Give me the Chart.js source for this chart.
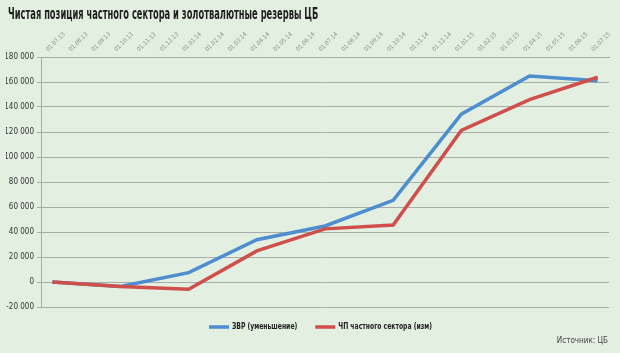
<!DOCTYPE html>
<html>
<head>
<meta charset="utf-8">
<script src="https://cdn.jsdelivr.net/npm/chart.js@4.4.1/dist/chart.umd.min.js"></script>
<style>
  html, body { margin: 0; padding: 0; background: #e3efe1; }
  #wrap { width: 620px; height: 353px; }
</style>
</head>
<body>
<div id="wrap"><canvas id="c" width="620" height="353"></canvas></div>
<script>
// подписи оси (ежемесячно)
const months = ['01.07.13', '01.08.13', '01.09.13', '01.10.13', '01.11.13', '01.12.13',
  '01.01.14', '01.02.14', '01.03.14', '01.04.14', '01.05.14', '01.06.14',
  '01.07.14', '01.08.14', '01.09.14', '01.10.14', '01.11.14', '01.12.14',
  '01.01.15', '01.02.15', '01.03.15', '01.04.15', '01.05.15', '01.06.15', '01.07.15'];
// точки данных (поквартально)
const quarters = ['01.07.13', '01.10.13', '01.01.14', '01.04.14', '01.07.14',
  '01.10.14', '01.01.15', '01.04.15', '01.07.15'];
const zvr = [0, -3500, 7500, 33800, 44800, 65300, 134300, 164800, 161000];
const cpChange = [0, -3600, -5800, 24900, 42500, 45600, 121200, 145900, 163800];
const yTicks = [-20000, 0, 20000, 40000, 60000, 80000, 100000, 120000, 140000, 160000, 180000];

const titleText = 'Чистая позиция частного сектора и золотвалютные резервы ЦБ';
const sourceText = 'Источник: ЦБ';

const FONT = '"DejaVu Sans Condensed", "DejaVu Sans", sans-serif';

const toPoints = vals => quarters.map((q, i) => ({x: q, y: vals[i]}));

// узкий шрифт, как в оригинале: сжимаем по горизонтали
function narrowText(ctx, text, x, y, font, color, sx) {
  ctx.save();
  ctx.font = font;
  ctx.fillStyle = color;
  ctx.textBaseline = 'middle';
  ctx.translate(x, y);
  ctx.scale(sx, 1);
  ctx.fillText(text, 0, 0);
  const w = ctx.measureText(text).width * sx;
  ctx.restore();
  return w;
}

const decor = {
  id: 'decor',
  beforeDraw(chart) {
    const ctx = chart.ctx;
    ctx.save();
    ctx.fillStyle = '#e3efe1';
    ctx.fillRect(0, 0, chart.width, chart.height);
    ctx.restore();
  },
  afterDraw(chart) {
    const ctx = chart.ctx;
    narrowText(ctx, titleText, 8, 15, 'bold 15px ' + FONT, '#1e1e1e', 0.616);

    // легенда
    let x = 209;
    const y = 327;
    chart.data.datasets.forEach(ds => {
      ctx.save();
      ctx.strokeStyle = ds.borderColor;
      ctx.lineWidth = 3.5;
      ctx.beginPath();
      ctx.moveTo(x, y);
      ctx.lineTo(x + 20, y);
      ctx.stroke();
      ctx.restore();
      x += 23;
      x += narrowText(ctx, ds.label, x, y, 'bold 9px ' + FONT, '#222', 0.75) + 18;
    });

    ctx.save();
    ctx.font = '8px ' + FONT;
    ctx.fillStyle = '#444';
    ctx.textAlign = 'right';
    ctx.textBaseline = 'middle';
    ctx.fillText(sourceText, 608, 341);
    ctx.restore();
  }
};

new Chart(document.getElementById('c'), {
  type: 'line',
  data: {
    labels: months,
    datasets: [
      {
        label: 'ЗВР (уменьшение)',
        data: toPoints(zvr),
        borderColor: '#4e8dcf',
        borderWidth: 3.5,
        pointRadius: 0,
        tension: 0,
        order: 1
      },
      {
        label: 'ЧП частного сектора (изм)',
        data: toPoints(cpChange),
        borderColor: '#cf4f4c',
        borderWidth: 3.5,
        pointRadius: 0,
        tension: 0,
        order: 0
      }
    ]
  },
  options: {
    responsive: false,
    animation: false,
    layout: {padding: {left: 6, right: 11, top: 28, bottom: 46}},
    plugins: {
      title: {display: false},
      legend: {display: false},
      tooltip: {enabled: false}
    },
    scales: {
      x: {
        type: 'category',
        position: 'top',
        offset: true,
        afterFit: scale => { scale.height = 29; },
        grid: {display: false, tickLength: 3, color: '#a9ada7'},
        border: {display: true, color: '#a9ada7', width: 1},
        ticks: {
          autoSkip: false,
          maxRotation: 45,
          minRotation: 45,
          color: '#8a8d89',
          font: {family: FONT, size: 6},
          padding: 1
        }
      },
      y: {
        min: -20000,
        max: 180000,
        afterBuildTicks: scale => { scale.ticks = yTicks.map(v => ({value: v})); },
        afterFit: scale => { scale.width = 35; },
        grid: {color: '#a9ada7', lineWidth: 1, tickLength: 4},
        border: {display: true, color: '#a9ada7'},
        ticks: {
          color: '#333',
          font: {family: FONT, size: 8},
          padding: 3,
          callback: v => v === 0 ? '0' : (v < 0 ? '-' : '') + Math.abs(v).toLocaleString('ru-RU').replace(/\s/g, ' ')
        }
      }
    }
  },
  plugins: [decor]
});
</script>
</body>
</html>
